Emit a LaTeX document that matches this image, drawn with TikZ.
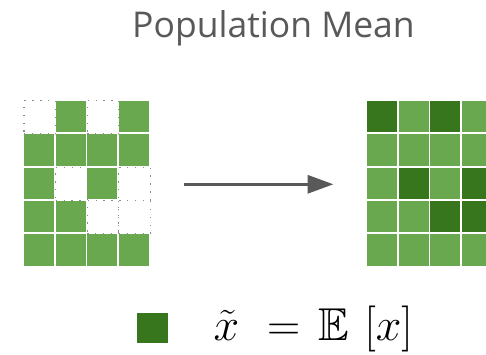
\documentclass[tikz,border=0pt]{standalone}
\usepackage{amsmath}
\usepackage{amssymb}
\usepackage{fontspec}
\setsansfont{Open Sans}
\usetikzlibrary{arrows.meta}
\definecolor{cellgreen}{HTML}{6AA84F}
\definecolor{meangreen}{HTML}{38761D}
\definecolor{slidegrey}{HTML}{595959}
\definecolor{gapgrey}{HTML}{8C8C8C}

\begin{document}
\begin{tikzpicture}[
  x=1pt,
  y=-1pt,
  every node/.style={inner sep=0pt, outer sep=0pt},
  cell/.style={fill=cellgreen, minimum width=30pt, minimum height=31.4pt},
  meancell/.style={cell, fill=meangreen},
  gapcell/.style={fill=white, draw=gapgrey, line width=1.3pt,
                  dash pattern=on 1.3pt off 6.6pt,
                  minimum width=31.6pt, minimum height=33.3pt},
  pointer/.style={slidegrey, line width=3.3pt,
                  -{Triangle[length=26pt, width=18pt]}},
  title/.style={font=\sffamily\fontsize{35.5}{42}\selectfont, text=slidegrey},
  formula/.style={font=\fontsize{24.88}{30}\selectfont}
]
  % ---- picture frame ---------------------------------------------------
  \useasboundingbox (0,0) rectangle (486,354);

  % ---- heading ---------------------------------------------------------
  \node[title, anchor=base] (heading) at (273.5,37) {Population Mean};

  % ---- observed grid, some entries missing ------------------------------
  \foreach \c in {0,...,3}
    \foreach \r in {0,...,4}
      \node[cell] (obs-\c-\r) at ({39+31.6*\c},{116.7+33.3*\r}) {};
  \foreach \c/\r in {0/0, 2/0, 1/2, 3/2, 2/3, 3/3}
    \node[gapcell] (gap-\c-\r) at ({39.8+31.6*\c},{117.2+33.3*\r}) {};

  % ---- completed grid, missing entries set to the mean ------------------
  \foreach \c in {0,...,3}
    \foreach \r in {0,...,4}
      \node[cell] (pop-\c-\r) at ({382.3+31.4*\c},{116.7+33.3*\r}) {};
  \foreach \c/\r in {0/0, 2/0, 1/2, 3/2, 2/3, 3/3}
    \node[meancell] (fill-\c-\r) at ({382.3+31.4*\c},{116.7+33.3*\r}) {};

  % ---- arrow between the grids -----------------------------------------
  \coordinate (from) at (184,184.3);
  \coordinate (to) at (333.5,184.3);
  \draw[pointer] (from) -- (to);

  % ---- legend ----------------------------------------------------------
  \node[meancell, minimum width=31pt, minimum height=30pt] (key) at (152.5,328) {};
  \node[formula, anchor=base west] (rule) at (213.5,340)
    {\scalebox{1.85}{$\tilde{x}\mkern6mu=\mkern2mu\mathbb{E}\mkern3mu\left[x\right]$}};

\end{tikzpicture}
\end{document}
